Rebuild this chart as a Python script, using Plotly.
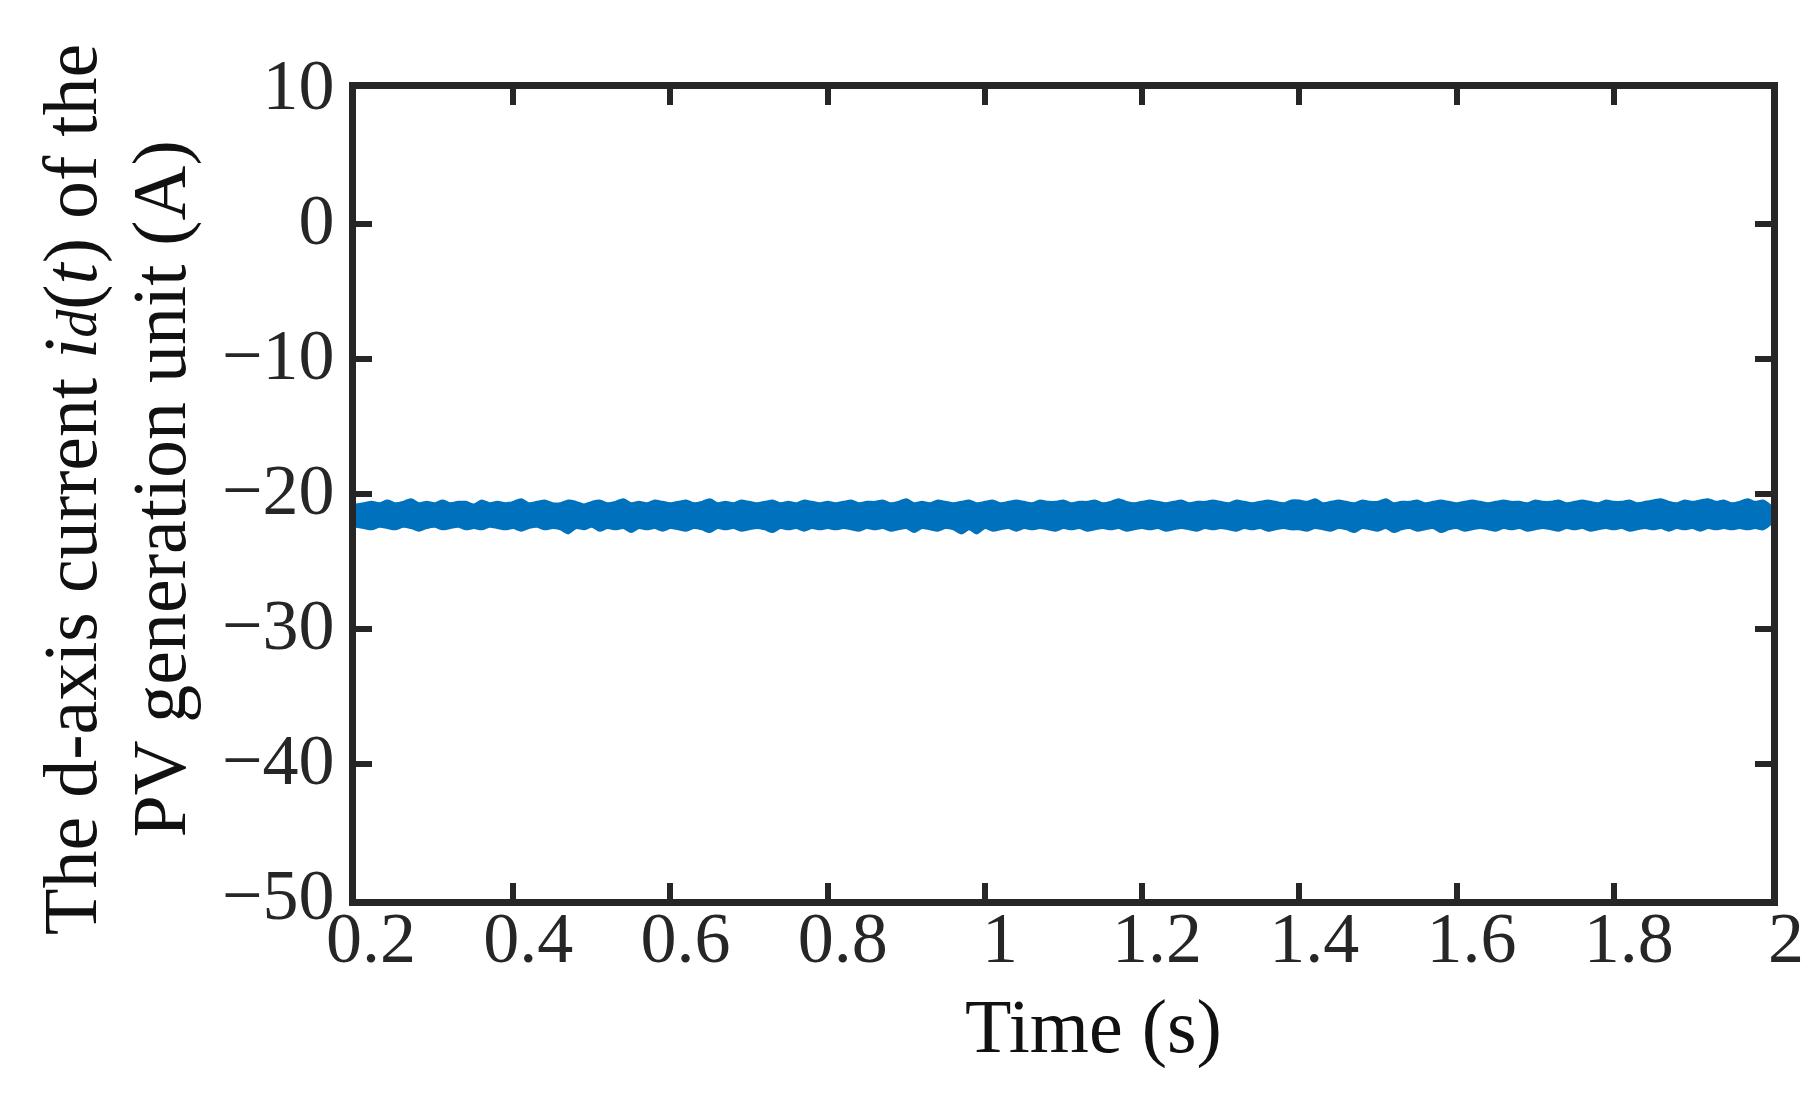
import plotly.graph_objects as go

# ---- data ----
upper = [
    -20.8,-20.7,-20.6,-20.7,-20.5,-20.7,-20.6,-20.4,-20.7,-20.6,-20.7,-20.5,-20.7,-20.6,-20.6,-20.8,-20.5,-20.7,-20.6,-20.7,
    -20.6,-20.4,-20.7,-20.6,-20.5,-20.7,-20.7,-20.5,-20.6,-20.8,-20.6,-20.5,-20.7,-20.6,-20.4,-20.7,-20.6,-20.7,-20.5,-20.6,
    -20.7,-20.6,-20.5,-20.7,-20.6,-20.4,-20.7,-20.6,-20.7,-20.5,-20.6,-20.7,-20.6,-20.5,-20.7,-20.6,-20.7,-20.5,-20.6,-20.7,
    -20.6,-20.7,-20.6,-20.5,-20.7,-20.6,-20.6,-20.5,-20.7,-20.6,-20.4,-20.7,-20.6,-20.7,-20.5,-20.6,-20.7,-20.6,-20.5,-20.7,
    -20.6,-20.5,-20.7,-20.6,-20.5,-20.6,-20.7,-20.5,-20.6,-20.6,-20.5,-20.7,-20.6,-20.6,-20.5,-20.7,-20.6,-20.4,-20.6,-20.7,
    -20.6,-20.5,-20.6,-20.7,-20.6,-20.5,-20.7,-20.6,-20.6,-20.5,-20.6,-20.7,-20.5,-20.6,-20.7,-20.6,-20.5,-20.6,-20.7,-20.5,
    -20.5,-20.6,-20.4,-20.7,-20.6,-20.5,-20.6,-20.7,-20.5,-20.6,-20.6,-20.4,-20.7,-20.6,-20.6,-20.5,-20.7,-20.6,-20.5,-20.6,
    -20.7,-20.6,-20.5,-20.6,-20.7,-20.6,-20.5,-20.6,-20.6,-20.7,-20.5,-20.6,-20.6,-20.5,-20.7,-20.6,-20.5,-20.6,-20.7,-20.5,
    -20.6,-20.6,-20.5,-20.7,-20.6,-20.5,-20.4,-20.6,-20.7,-20.5,-20.6,-20.5,-20.4,-20.6,-20.5,-20.7,-20.6,-20.4,-20.6,-20.5,
    -20.9,
]
lower = [
    -22.4,-22.5,-22.6,-22.4,-22.5,-22.6,-22.4,-22.5,-22.7,-22.5,-22.4,-22.6,-22.5,-22.4,-22.6,-22.5,-22.6,-22.4,-22.5,-22.6,
    -22.5,-22.7,-22.5,-22.4,-22.6,-22.5,-22.6,-22.9,-22.5,-22.6,-22.4,-22.7,-22.5,-22.6,-22.5,-22.8,-22.5,-22.6,-22.5,-22.7,
    -22.5,-22.6,-22.7,-22.5,-22.6,-22.8,-22.5,-22.6,-22.5,-22.7,-22.6,-22.5,-22.6,-22.8,-22.5,-22.6,-22.5,-22.7,-22.5,-22.6,
    -22.5,-22.6,-22.5,-22.6,-22.7,-22.5,-22.6,-22.5,-22.7,-22.6,-22.5,-22.8,-22.5,-22.6,-22.7,-22.5,-22.6,-22.9,-22.6,-22.9,
    -22.5,-22.7,-22.6,-22.5,-22.7,-22.5,-22.6,-22.5,-22.6,-22.7,-22.5,-22.6,-22.5,-22.7,-22.6,-22.5,-22.6,-22.5,-22.7,-22.6,
    -22.5,-22.6,-22.5,-22.7,-22.6,-22.5,-22.6,-22.7,-22.5,-22.6,-22.5,-22.6,-22.7,-22.5,-22.6,-22.5,-22.7,-22.6,-22.5,-22.6,
    -22.6,-22.7,-22.5,-22.6,-22.7,-22.5,-22.6,-22.8,-22.5,-22.6,-22.7,-22.5,-22.8,-22.6,-22.5,-22.7,-22.6,-22.5,-22.8,-22.6,
    -22.5,-22.7,-22.6,-22.5,-22.6,-22.7,-22.5,-22.6,-22.5,-22.7,-22.6,-22.5,-22.6,-22.7,-22.5,-22.6,-22.5,-22.7,-22.6,-22.5,
    -22.6,-22.5,-22.7,-22.6,-22.5,-22.6,-22.5,-22.7,-22.5,-22.6,-22.5,-22.7,-22.5,-22.6,-22.5,-22.6,-22.5,-22.6,-22.5,-22.6,
    -22.2,
]
t_start, t_step = 0.20, 0.01
time = [round(t_start + t_step * i, 2) for i in range(len(upper))]

x_tickvals = [0.2, 0.4, 0.6, 0.8, 1.0, 1.2, 1.4, 1.6, 1.8, 2.0]
x_ticktext = ["0.2", "0.4", "0.6", "0.8", "1", "1.2", "1.4", "1.6", "1.8", "2"]
y_tickvals = [10, 0, -10, -20, -30, -40, -50]

x_title = "Time (s)"
y_title_1 = "The d-axis current <i>i</i><span style='font-size:56px'><i>d</i></span>(<i>t</i>) of the"
y_title_2 = "PV generation unit (A)"

# ---- style ----
BLUE = "#0072BD"
AX = "#262626"
FONT = "Liberation Serif, Times New Roman, serif"

fig = go.Figure()
fig.add_trace(go.Scatter(x=time, y=lower, mode="lines",
                         line=dict(color=BLUE, width=2.5, shape="spline", smoothing=0.8),
                         showlegend=False, hoverinfo="skip"))
fig.add_trace(go.Scatter(x=time, y=upper, mode="lines", fill="tonexty", fillcolor=BLUE,
                         line=dict(color=BLUE, width=2.5, shape="spline", smoothing=0.8),
                         showlegend=False, name="i_d(t)"))

axis_common = dict(
    showline=True, linewidth=7, linecolor=AX, mirror="ticks",
    ticks="inside", ticklen=16, tickwidth=6, tickcolor=AX,
    showgrid=False, zeroline=False,
    tickfont=dict(family=FONT, size=72, color=AX),
)

fig.update_layout(
    width=1819, height=1101,
    margin=dict(l=348, r=56, t=81, b=210),
    paper_bgcolor="white", plot_bgcolor="white",
    xaxis=dict(range=[0.2, 2.0], tickvals=x_tickvals, ticktext=x_ticktext,
               ticklabelshift=15, ticklabelstandoff=-30, **axis_common),
    yaxis=dict(range=[-50, 10], tickvals=y_tickvals, ticklabelshift=-5, **axis_common),
    font=dict(family=FONT, color="#111111"),
)

fig.add_annotation(text=x_title, xref="paper", yref="paper", x=0.521, y=-0.157,
                   xanchor="center", yanchor="middle", showarrow=False,
                   font=dict(family=FONT, size=76, color="#111111"))
fig.add_annotation(text=y_title_1, xref="paper", yref="paper", x=-0.2014, y=0.505,
                   xanchor="center", yanchor="middle", textangle=-90, showarrow=False,
                   font=dict(family=FONT, size=76, color="#111111"))
fig.add_annotation(text=y_title_2, xref="paper", yref="paper", x=-0.139, y=0.506,
                   xanchor="center", yanchor="middle", textangle=-90, showarrow=False,
                   font=dict(family=FONT, size=76, color="#111111"))

fig.write_html("out.html")
